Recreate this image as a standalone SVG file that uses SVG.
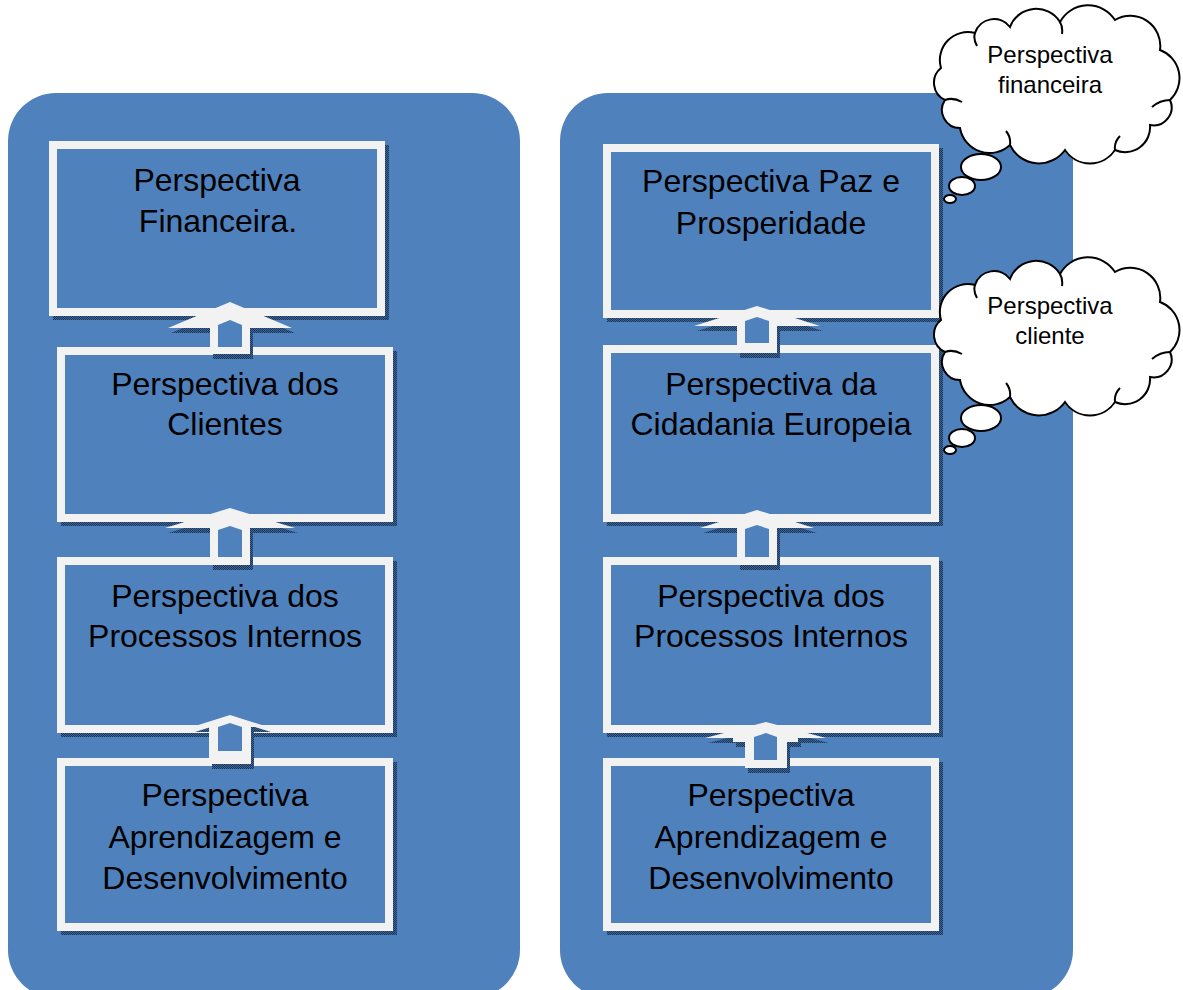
<svg xmlns="http://www.w3.org/2000/svg" width="1183" height="990" viewBox="0 0 1183 990">
<style>
.panel{fill:#4F81BD}
.box{fill:#4F81BD;stroke:#F2F2F2;stroke-width:8}
.shadow{fill:url(#dither);stroke:url(#dither);stroke-width:8}
.ashadow{fill:url(#dither)}
.aout{fill:#F2F2F2}
.ain{fill:#4F81BD}
.t{font-family:"Liberation Sans",Arial,sans-serif;font-size:32px;fill:#000;text-anchor:middle}
.ct{font-family:"Liberation Sans",Arial,sans-serif;font-size:24px;fill:#000;text-anchor:middle}
.cloud{fill:#fff;stroke:#000;stroke-width:2}
.inner{fill:none;stroke:#000;stroke-width:2}
</style>
<defs>
<pattern id="dither" width="2" height="2" patternUnits="userSpaceOnUse">
<rect width="1" height="1" fill="#1e3557"/>
<rect x="1" y="1" width="1" height="1" fill="#1e3557"/>
<rect x="1" y="0" width="1" height="1" fill="#3d6699"/>
<rect x="0" y="1" width="1" height="1" fill="#3d6699"/>
</pattern>
<path id="cloudShape" d="M941,68 A28,28 0 0 1 975,33 A20,20 0 0 1 1010,27 A28,28 0 0 1 1060,22 A32,32 0 0 1 1115,20 A30,30 0 0 1 1160,50 A30,30 0 0 1 1170,100 A18,18 0 0 1 1150,125 A25,25 0 0 1 1115,150 A30,30 0 0 1 1065,150 A32,32 0 0 1 1010,145 A30,30 0 0 1 960,128 A18,18 0 0 1 945,100 A19,19 0 0 1 941,68 Z"/>
<path id="cloudInner" d="M945,100 q8,-3 17,2 M1010,145 q1,-8 -4,-14 M1115,150 q-1,-8 5,-14 M1170,100 q-10,0 -18,7 M1060,22 q3,5 2,12 M975,33 q-2,6 2,13"/>
</defs>

<g id="panel-left"><rect class="panel" x="8" y="93" width="512" height="905" rx="48" ry="48"/></g>
<g id="panel-right"><rect class="panel" x="560" y="93" width="513" height="905" rx="48" ry="48"/></g>

<g id="box-shadows">
<rect class="shadow" x="57" y="149" width="328" height="167"/>
<rect class="shadow" x="65" y="355" width="328" height="167"/>
<rect class="shadow" x="65" y="565" width="328" height="168"/>
<rect class="shadow" x="65" y="766" width="328" height="165"/>
<rect class="shadow" x="611" y="152" width="328" height="166"/>
<rect class="shadow" x="611" y="353" width="328" height="169"/>
<rect class="shadow" x="611" y="565" width="328" height="168"/>
<rect class="shadow" x="611" y="766" width="328" height="165"/>
</g>

<g id="L1"><rect class="box" x="53" y="145" width="328" height="167"/></g>
<g id="L2"><rect class="box" x="61" y="351" width="328" height="167"/></g>
<g id="L3"><rect class="box" x="61" y="561" width="328" height="168"/></g>
<g id="L4"><rect class="box" x="61" y="762" width="328" height="165"/></g>
<g id="R1"><rect class="box" x="607" y="148" width="328" height="166"/></g>
<g id="R2"><rect class="box" x="607" y="349" width="328" height="169"/></g>
<g id="R3"><rect class="box" x="607" y="561" width="328" height="168"/></g>
<g id="R4"><rect class="box" x="607" y="762" width="328" height="165"/></g>

<g id="connectors">
<g id="arrow-L2-L1">
<polygon class="ashadow" transform="translate(3,5)" points="230,302 168,328 210,328 210,354 250,354 250,328 292,328"/>
<polygon class="aout" points="230,302 168,328 210,328 210,354 250,354 250,328 292,328"/>
<polygon class="ain" points="230,320 218,325 218,347 242,347 242,325"/>
</g>
<g id="arrow-L3-L2">
<polygon class="ashadow" transform="translate(3,5)" points="230,508 165,528 210,528 210,565 250,565 250,528 295,528"/>
<polygon class="aout" points="230,508 165,528 210,528 210,565 250,565 250,528 295,528"/>
<polygon class="ain" points="230,526 218,530 218,557 242,557 242,530"/>
</g>
<g id="arrow-L4-L3">
<polygon class="ashadow" transform="translate(3,5)" points="230,715 192,727 209,727 209,764 251,764 251,727 268,727"/>
<polygon class="aout" points="230,715 192,727 209,727 209,764 251,764 251,727 268,727"/>
<polygon class="ain" points="230,723 218,727 218,751 242,751 242,727"/>
</g>
<g id="arrow-R2-R1">
<polygon class="ashadow" transform="translate(3,5)" points="757,306 694,326 737,326 737,353 777,353 777,326 820,326"/>
<polygon class="aout" points="757,306 694,326 737,326 737,353 777,353 777,326 820,326"/>
<polygon class="ain" points="757,317 745,321 745,343 769,343 769,321"/>
</g>
<g id="arrow-R3-R2">
<polygon class="ashadow" transform="translate(3,5)" points="757,510 700,528 737,528 737,565 777,565 777,528 814,528"/>
<polygon class="aout" points="757,510 700,528 737,528 737,565 777,565 777,528 814,528"/>
<polygon class="ain" points="757,525 745,529 745,557 769,557 769,529"/>
</g>
<g id="arrow-R4-R3">
<polygon class="ashadow" transform="translate(3,5)" points="766,722 705,738 733,738 733,742 745,742 745,768 787,768 787,742 798,742 798,738 826,738"/>
<polygon class="aout" points="766,722 705,738 733,738 733,742 745,742 745,768 787,768 787,742 798,742 798,738 826,738"/>
<polygon class="ain" points="766,733 754,737 754,760 777,760 777,737"/>
</g>
</g>

<g id="L1-text"><text class="t" x="217" y="191">Perspectiva</text><text class="t" x="218" y="232">Financeira.</text></g>
<g id="L2-text"><text class="t" x="225" y="395">Perspectiva dos</text><text class="t" x="225" y="435">Clientes</text></g>
<g id="L3-text"><text class="t" x="225" y="607">Perspectiva dos</text><text class="t" x="225" y="647">Processos Internos</text></g>
<g id="L4-text"><text class="t" x="225" y="806">Perspectiva</text><text class="t" x="225" y="848">Aprendizagem e</text><text class="t" x="225" y="889">Desenvolvimento</text></g>
<g id="R1-text"><text class="t" x="771" y="192">Perspectiva Paz e</text><text class="t" x="771" y="234">Prosperidade</text></g>
<g id="R2-text"><text class="t" x="771" y="395">Perspectiva da</text><text class="t" x="771" y="435">Cidadania Europeia</text></g>
<g id="R3-text"><text class="t" x="771" y="607">Perspectiva dos</text><text class="t" x="771" y="647">Processos Internos</text></g>
<g id="R4-text"><text class="t" x="771" y="806">Perspectiva</text><text class="t" x="771" y="848">Aprendizagem e</text><text class="t" x="771" y="889">Desenvolvimento</text></g>

<g id="cloud-financeira">
<use href="#cloudShape" class="cloud"/>
<use href="#cloudInner" class="inner"/>
<ellipse class="cloud" cx="981" cy="167" rx="20" ry="13"/>
<ellipse class="cloud" cx="962" cy="186" rx="13" ry="9"/>
<ellipse class="cloud" cx="950" cy="199" rx="6" ry="4"/>
<text class="ct" x="1050" y="63">Perspectiva</text>
<text class="ct" x="1050" y="93">financeira</text>
</g>
<g id="cloud-cliente">
<use href="#cloudShape" class="cloud" transform="translate(0,252)"/>
<use href="#cloudInner" class="inner" transform="translate(0,252)"/>
<ellipse class="cloud" cx="981" cy="418" rx="20" ry="13"/>
<ellipse class="cloud" cx="962" cy="438" rx="13" ry="9"/>
<ellipse class="cloud" cx="950" cy="450" rx="6" ry="4"/>
<text class="ct" x="1050" y="314">Perspectiva</text>
<text class="ct" x="1050" y="344">cliente</text>
</g>
</svg>
